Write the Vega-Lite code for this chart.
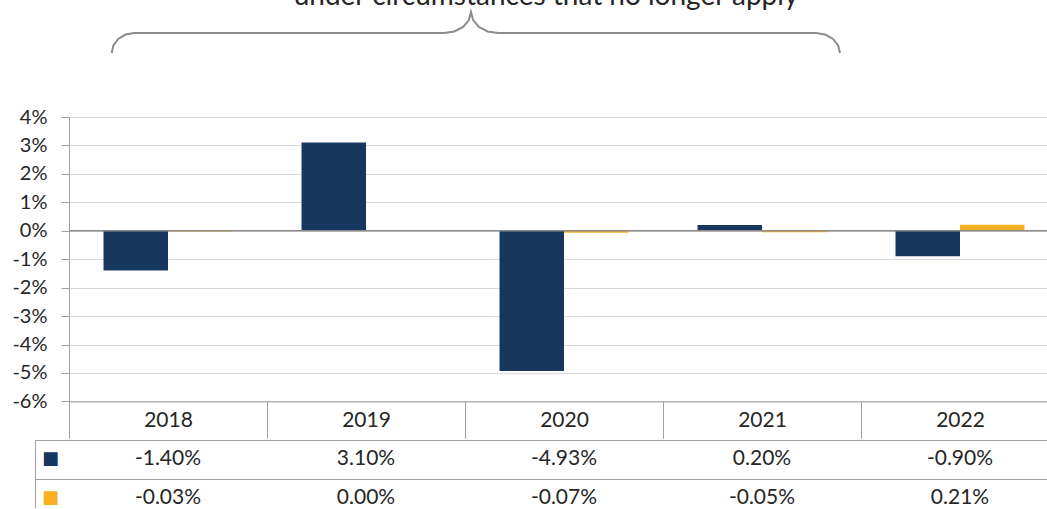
{
  "$schema": "https://vega.github.io/schema/vega-lite/v6.json",
  "padding": {"top": -17, "left": 11, "right": -12, "bottom": -10},
  "background": "white",
  "spacing": 0,
  "config": {
    "view": {"stroke": null},
    "font": "Lato",
    "locale": {"number": {"decimal": ".", "thousands": ",", "grouping": [3], "currency": ["$", ""], "minus": "-"}}
  },
  "datasets": {
    "vals": [
      {"year": "2018", "series": "Series 1", "v": -0.0140},
      {"year": "2018", "series": "Series 2", "v": -0.0003},
      {"year": "2019", "series": "Series 1", "v": 0.0310},
      {"year": "2019", "series": "Series 2", "v": 0.0000},
      {"year": "2020", "series": "Series 1", "v": -0.0493},
      {"year": "2020", "series": "Series 2", "v": -0.0007},
      {"year": "2021", "series": "Series 1", "v": 0.0020},
      {"year": "2021", "series": "Series 2", "v": -0.0005},
      {"year": "2022", "series": "Series 1", "v": -0.0090},
      {"year": "2022", "series": "Series 2", "v": 0.0021}
    ],
    "brace": [
      {"i": 0, "bx": 0.2157, "by": 0.06248},
      {"i": 1, "bx": 0.2242, "by": 0.06519},
      {"i": 2, "bx": 0.2485, "by": 0.06744},
      {"i": 3, "bx": 0.2854, "by": 0.06899},
      {"i": 4, "bx": 0.3283, "by": 0.06951},
      {"i": 5, "bx": 1.8939, "by": 0.06951},
      {"i": 6, "bx": 1.9460, "by": 0.07008},
      {"i": 7, "bx": 1.9904, "by": 0.07170},
      {"i": 8, "bx": 2.0197, "by": 0.07409},
      {"i": 9, "bx": 2.0303, "by": 0.07690},
      {"i": 10, "bx": 2.0409, "by": 0.07409},
      {"i": 11, "bx": 2.0702, "by": 0.07170},
      {"i": 12, "bx": 2.1146, "by": 0.07008},
      {"i": 13, "bx": 2.1667, "by": 0.06951},
      {"i": 14, "bx": 3.7727, "by": 0.06951},
      {"i": 15, "bx": 3.8192, "by": 0.06899},
      {"i": 16, "bx": 3.8586, "by": 0.06744},
      {"i": 17, "bx": 3.8848, "by": 0.06519},
      {"i": 18, "bx": 3.8939, "by": 0.06248}
    ],
    "note": [
      {"bx": 2.4091, "by": 0.07936, "label": "under circumstances that no longer apply"}
    ]
  },
  "vconcat": [
    {
      "width": 990,
      "height": 284.4,
      "layer": [
        {
          "data": {"name": "vals"},
          "mark": {"type": "bar"},
          "encoding": {
            "x": {
              "field": "year", "type": "nominal",
              "scale": {"paddingInner": 0, "paddingOuter": 0},
              "axis": {
                "title": null, "labelAngle": 0, "tickBand": "extent", "tickSize": 37,
                "tickColor": "#a0a0a0", "domainColor": "#a0a0a0", "labelFontSize": 21,
                "labelColor": "#262626", "labelPadding": -18, "labelBaseline": "middle", "grid": false
              }
            },
            "xOffset": {"field": "series", "type": "nominal", "scale": {"paddingInner": 0, "paddingOuter": 0.535}},
            "y": {
              "field": "v", "type": "quantitative",
              "scale": {"domain": [-0.06, 0.04], "nice": false, "zero": false},
              "axis": {
                "title": null, "format": ".0%", "labelOverlap": false,
                "values": [-0.06, -0.05, -0.04, -0.03, -0.02, -0.01, 0, 0.01, 0.02, 0.03, 0.04],
                "grid": true, "gridColor": "#d9d9d9", "domainColor": "#a0a0a0", "tickColor": "#a0a0a0",
                "tickSize": 8, "labelPadding": 14, "labelFontSize": 20, "labelColor": "#262626"
              }
            },
            "color": {"field": "series", "type": "nominal", "scale": {"range": ["#17375E", "#F9B123"]}, "legend": null}
          }
        },
        {
          "data": {"values": [{}]},
          "mark": {"type": "rule", "color": "#8c8c8c", "strokeWidth": 1.5},
          "encoding": {"y": {"datum": 0, "type": "quantitative", "scale": {"domain": [-0.06, 0.04], "nice": false},
            "axis": {
                "title": null, "format": ".0%", "labelOverlap": false,
                "values": [-0.06, -0.05, -0.04, -0.03, -0.02, -0.01, 0, 0.01, 0.02, 0.03, 0.04],
                "grid": true, "gridColor": "#d9d9d9", "domainColor": "#a0a0a0", "tickColor": "#a0a0a0",
                "tickSize": 8, "labelPadding": 14, "labelFontSize": 20, "labelColor": "#262626"
            }}}
        },
        {
          "data": {"name": "brace"},
          "mark": {"type": "line", "color": "#8c8c8c", "strokeWidth": 2, "clip": false},
          "encoding": {
            "x": {"field": "bx", "type": "quantitative", "scale": {"domain": [0, 5], "nice": false, "zero": false}, "axis": null},
            "y": {"field": "by", "type": "quantitative", "scale": {"domain": [-0.06, 0.04], "nice": false},
              "axis": {
                "title": null, "format": ".0%", "labelOverlap": false,
                "values": [-0.06, -0.05, -0.04, -0.03, -0.02, -0.01, 0, 0.01, 0.02, 0.03, 0.04],
                "grid": true, "gridColor": "#d9d9d9", "domainColor": "#a0a0a0", "tickColor": "#a0a0a0",
                "tickSize": 8, "labelPadding": 14, "labelFontSize": 20, "labelColor": "#262626"
              }},
            "order": {"field": "i"}
          }
        },
        {
          "data": {"name": "note"},
          "mark": {"type": "text", "fontSize": 28, "color": "#262626", "baseline": "alphabetic", "align": "center", "clip": false},
          "encoding": {
            "x": {"field": "bx", "type": "quantitative", "scale": {"domain": [0, 5], "nice": false, "zero": false}, "axis": null},
            "y": {"field": "by", "type": "quantitative", "scale": {"domain": [-0.06, 0.04], "nice": false},
              "axis": {
                "title": null, "format": ".0%", "labelOverlap": false,
                "values": [-0.06, -0.05, -0.04, -0.03, -0.02, -0.01, 0, 0.01, 0.02, 0.03, 0.04],
                "grid": true, "gridColor": "#d9d9d9", "domainColor": "#a0a0a0", "tickColor": "#a0a0a0",
                "tickSize": 8, "labelPadding": 14, "labelFontSize": 20, "labelColor": "#262626"
              }},
            "text": {"field": "label"}
          }
        }
      ],
      "resolve": {"scale": {"x": "independent"}}
    },
    {
      "width": 990,
      "height": 77,
      "data": {"name": "vals"},
      "layer": [
        {
          "mark": {"type": "text", "fontSize": 21, "color": "#262626"},
          "encoding": {
            "x": {
              "field": "year", "type": "nominal",
              "scale": {"paddingInner": 0, "paddingOuter": 0},
              "axis": {"title": null, "labels": false, "ticks": false, "domain": false, "grid": true, "tickBand": "extent", "gridColor": "#a0a0a0"}
            },
            "y": {
              "field": "series", "type": "nominal",
              "scale": {"paddingInner": 0, "paddingOuter": 0},
              "axis": {
                "title": null, "orient": "left", "offset": 34, "domain": true, "domainColor": "#a0a0a0",
                "ticks": true, "tickSize": -34, "tickColor": "#a0a0a0", "tickBand": "extent",
                "grid": true, "gridColor": "#a0a0a0", "labels": false
              }
            },
            "text": {"field": "v", "type": "quantitative", "format": ".2%"}
          }
        },
        {
          "mark": {"type": "text", "fontSize": 21, "color": "#262626"},
          "encoding": {
            "x": {"field": "year", "type": "nominal", "scale": {"paddingInner": 0, "paddingOuter": 0}, "axis": null},
            "y": {
              "field": "series", "type": "nominal",
              "scale": {"paddingInner": 0, "paddingOuter": 0},
              "axis": {
                "title": null, "orient": "left", "offset": 34, "domain": false, "ticks": false, "grid": false,
                "labelExpr": "'■'", "labelFont": "DejaVu Sans", "labelFontSize": 18,
                "labelColor": {"condition": {"test": "datum.value === 'Series 1'", "value": "#17375E"}, "value": "#F9B123"},
                "labelAlign": "center", "labelPadding": -15, "labelBaseline": "middle"
              }
            },
            "text": {"value": ""}
          }
        }
      ],
      "resolve": {"axis": {"y": "independent"}}
    }
  ]
}
